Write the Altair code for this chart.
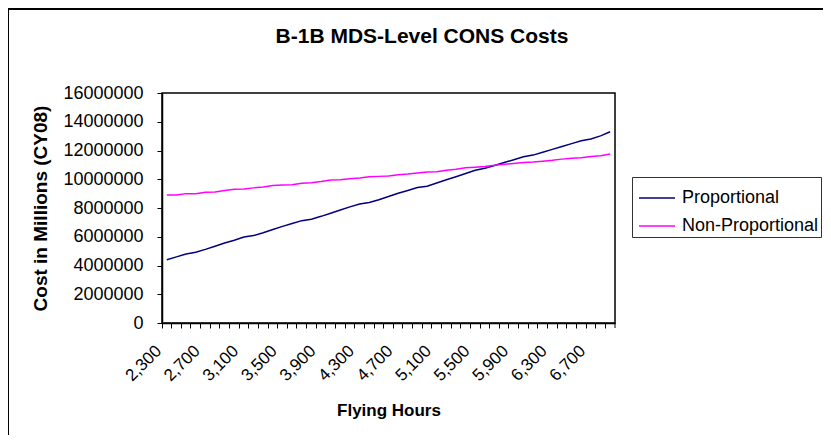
import altair as alt
import pandas as pd

hours = list(range(2300, 7000, 100))  # 47 categories

proportional = [4.40, 4.60, 4.80, 4.92, 5.12, 5.34, 5.56, 5.76, 5.98, 6.08,
                6.28, 6.50, 6.72, 6.92, 7.12, 7.22, 7.42, 7.64, 7.86, 8.08,
                8.28, 8.38, 8.58, 8.80, 9.02, 9.22, 9.42, 9.52, 9.74, 9.96,
                10.18, 10.40, 10.62, 10.76, 10.96, 11.16, 11.36, 11.56, 11.68, 11.88,
                12.08, 12.28, 12.48, 12.68, 12.80, 13.02, 13.30]

non_proportional = [8.90, 8.90, 9.00, 9.00, 9.10, 9.12, 9.22, 9.30, 9.32, 9.40,
                    9.46, 9.56, 9.60, 9.62, 9.72, 9.76, 9.84, 9.94, 9.96, 10.04,
                    10.08, 10.18, 10.20, 10.22, 10.32, 10.36, 10.44, 10.50, 10.52, 10.62,
                    10.70, 10.80, 10.84, 10.88, 10.98, 11.04, 11.10, 11.16, 11.20, 11.26,
                    11.32, 11.40, 11.46, 11.50, 11.58, 11.64, 11.75]

series_names = ["Proportional", "Non-Proportional"]
series_colors = ["#000080", "#FF00FF"]
title_text = "B-1B MDS-Level CONS Costs"

rows = []
for h, p, n in zip(hours, proportional, non_proportional):
    rows.append({"hours": h, "series": series_names[0], "cost": p * 1e6})
    rows.append({"hours": h, "series": series_names[1], "cost": n * 1e6})
df = pd.DataFrame(rows)

FONT = "Liberation Sans"
W, H = 453, 230

lines = alt.Chart(df).mark_line(strokeWidth=1.5).encode(
    x=alt.X("hours:O",
            scale=alt.Scale(type="band", paddingInner=0, paddingOuter=0),
            bandPosition=0.5,
            axis=alt.Axis(
                title="Flying Hours",
                bandPosition=0,
                labelOffset=-8,
                labelAngle=-45,
                labelAlign="right",
                labelBaseline="middle",
                labelPadding=20,
                labelFontSize=17,
                labelExpr="(datum.value - 2300) % 400 === 0 ? format(datum.value, ',') : ''",
                tickSize=5,
                titleY=87,
                titleBaseline="middle",
                titleFontSize=17,
            )),
    y=alt.Y("cost:Q",
            scale=alt.Scale(domain=[0, 16000000]),
            axis=alt.Axis(
                title="Cost in Millions (CY08)",
                values=[0, 2000000, 4000000, 6000000, 8000000, 10000000, 12000000, 14000000, 16000000],
                format="d",
                tickSize=5,
                labelPadding=14,
                labelFontSize=18,
                grid=False,
                titleX=-122,
                titleY=115,
                titleBaseline="middle",
                titleAlign="center",
                titleFontSize=19,
            )),
    color=alt.Color("series:N",
                    scale=alt.Scale(domain=series_names, range=series_colors),
                    sort=series_names,
                    legend=alt.Legend(
                        title=None,
                        orient="none",
                        legendX=470,
                        legendY=84,
                        symbolType="stroke",
                        symbolSize=1296,
                        symbolStrokeWidth=1.5,
                        labelFontSize=18,
                        labelFont=FONT,
                        strokeColor="#333333",
                        fillColor="white",
                        padding=2,
                        rowPadding=0,
                        labelOffset=6,
                        symbolOffset=4,
                    )),
)

single = pd.DataFrame({"k": [0]})
left_frame = alt.Chart(single).mark_rule(color="black", strokeWidth=2).encode(
    x=alt.value(-154), y=alt.value(-84), y2=alt.value(360))
top_frame = alt.Chart(single).mark_rule(color="black", strokeWidth=2).encode(
    x=alt.value(-155), x2=alt.value(680), y=alt.value(-84))
end_tick = alt.Chart(single).mark_rule(color="black", strokeWidth=1).encode(
    x=alt.value(W), y=alt.value(H), y2=alt.value(H + 5))
title_mark = alt.Chart(single).mark_text(
    font=FONT, fontSize=21, fontWeight="bold", color="black",
    align="center", baseline="middle",
).encode(x=alt.value(260), y=alt.value(-56), text=alt.value(title_text))

chart = alt.layer(lines, left_frame, top_frame, end_tick, title_mark).properties(
    width=W,
    height=H,
    autosize=alt.AutoSizeParams(type="none"),
    padding={"left": 154, "top": 85, "right": 208, "bottom": 112},
).configure_view(
    stroke="black", strokeWidth=1.5
).configure_axis(
    domainColor="black", domainWidth=1.5, tickColor="black",
    labelFont=FONT, labelColor="black",
    titleFont=FONT, titleFontWeight="bold", titleColor="black",
)

chart.save("out.html", embed_options={"renderer": "svg", "actions": False})
